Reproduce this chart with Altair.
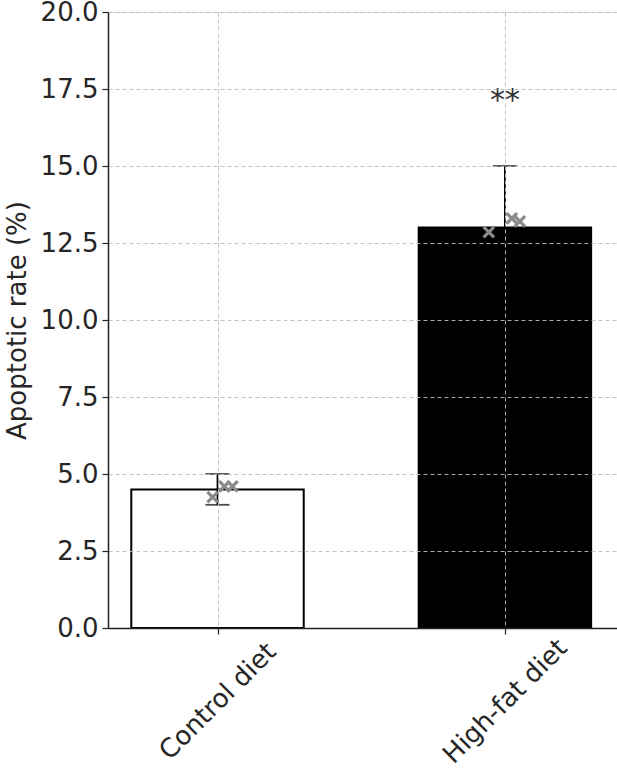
import altair as alt
import pandas as pd

groups = ["Control diet", "High-fat diet"]
means = [4.5, 13.0]
sds = [0.5, 2.0]
fills = ["white", "black"]

pt_groups = ["Control diet"] * 3 + ["High-fat diet"] * 3
pt_values = [4.25, 4.6, 4.6, 12.85, 13.3, 13.2]
pt_jitter = [-0.017, 0.024, 0.052, -0.056, 0.024, 0.052]

sig_group = ["High-fat diet"]
sig_value = [17.1]
sig_text = ["**"]

pos = {g: i for i, g in enumerate(groups)}
HALF = 0.30

bars_df = pd.DataFrame({"group": groups, "mean": means, "sd": sds, "fill": fills})
bars_df["pos"] = bars_df["group"].map(pos)
bars_df["x0"] = bars_df["pos"] - HALF
bars_df["x1"] = bars_df["pos"] + HALF
bars_df["lo"] = bars_df["mean"] - bars_df["sd"]
bars_df["hi"] = bars_df["mean"] + bars_df["sd"]
pts_df = pd.DataFrame({"group": pt_groups, "value": pt_values, "jit": pt_jitter})
pts_df["px"] = pts_df["group"].map(pos) + pts_df["jit"]
sig_df = pd.DataFrame({"group": sig_group, "value": sig_value, "text": sig_text})
sig_df["pos"] = sig_df["group"].map(pos)

FONT = "DejaVu Sans"
TXT = "#262626"
GRID = "#bcbcbc"

label_expr = " : ".join(
    [f"datum.value == {i} ? '{g}'" for i, g in enumerate(groups)] + ["''"]
)

xscale = alt.Scale(domain=[-0.381, 1.39], nice=False, zero=False)
yscale = alt.Scale(domain=[0, 20], nice=False)

xaxis = alt.Axis(title=None, values=list(range(len(groups))), labelExpr=label_expr,
                 labelAngle=315, labelAlign="center", labelBaseline="middle",
                 labelFontSize=26, labelFont=FONT, labelColor=TXT,
                 tickSize=6, tickColor="#222", tickWidth=1.2,
                 domainColor="#222", domainWidth=1.5, grid=True,
                 gridColor=GRID, gridDash=[4, 3], gridWidth=0.9,
                 labelPadding=67, zindex=1)
yaxis = alt.Axis(title="Apoptotic rate (%)", titleFontSize=26, titleFont=FONT,
                 titleColor=TXT, titleFontWeight="normal", titlePadding=10,
                 values=[0, 2.5, 5, 7.5, 10, 12.5, 15, 17.5, 20], format=".1f",
                 labelFontSize=26, labelFont=FONT, labelColor=TXT,
                 tickSize=6, tickColor="#222", tickWidth=1.2,
                 domainColor="#222", domainWidth=1.5, grid=True,
                 gridColor=GRID, gridDash=[4, 3], gridWidth=0.9,
                 labelPadding=4, zindex=1)

base = alt.Chart(bars_df)

bars = base.mark_bar(stroke="black", strokeWidth=2).encode(
    x=alt.X("x0:Q", scale=xscale, axis=xaxis),
    x2="x1:Q",
    y=alt.Y("mean:Q", scale=yscale, axis=yaxis),
    y2=alt.datum(0),
    fill=alt.Fill("fill:N", scale=None),
)

err = base.mark_rule(color="black", strokeWidth=1.8).encode(
    x="pos:Q", y="lo:Q", y2="hi:Q",
)
cap_lo = base.mark_tick(color="black", size=24, thickness=1.8,
                        orient="horizontal").encode(x="pos:Q", y="lo:Q")
cap_hi = base.mark_tick(color="black", size=24, thickness=1.8,
                        orient="horizontal").encode(x="pos:Q", y="hi:Q")

pts = alt.Chart(pts_df).mark_point(
    shape="M-1,-1L1,1M-1,1L1,-1", size=110, filled=False,
    stroke="#8a8a8a", strokeWidth=3.2, opacity=1
).encode(
    x="px:Q",
    y="value:Q",
)

sig = alt.Chart(sig_df).mark_text(fontSize=30, font=FONT, color="#333333",
                                  baseline="middle").encode(
    x="pos:Q",
    y="value:Q",
    text="text:N",
)

chart = alt.layer(bars, err, cap_lo, cap_hi, pts, sig).properties(
    width=509, height=616,
    autosize=alt.AutoSizeParams(type="none"),
    padding={"left": 108, "top": 12, "right": 0, "bottom": 146},
).configure_view(stroke=None).configure(background="white")

chart.save("out.html", embed_options={"renderer": "svg", "actions": False})
